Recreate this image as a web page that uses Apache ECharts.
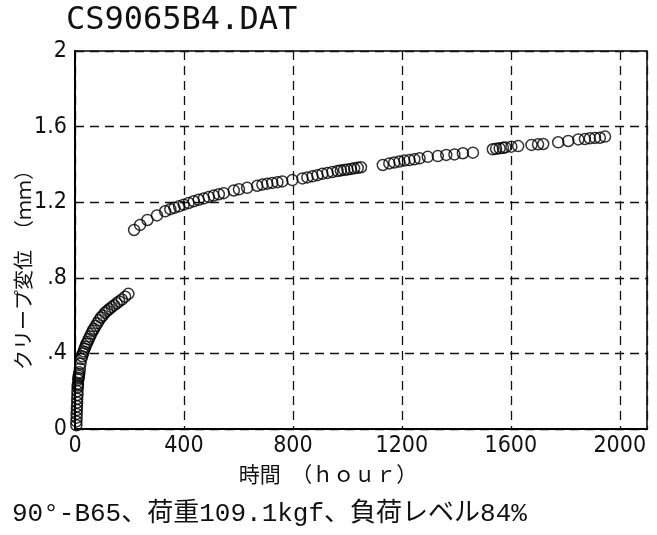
<!DOCTYPE html>
<html>
<head>
<meta charset="utf-8">
<script src="https://cdn.jsdelivr.net/npm/echarts@6/dist/echarts.min.js"></script>
<style>
html,body{margin:0;padding:0;background:#fff}
#creep-chart{width:657px;height:535px}
</style>
</head>
<body>
<div id="creep-chart"></div>
<script>
// 経過時間 (hour) とクリープ変位 (mm)
const hours = [
    5, 5, 6, 6, 7, 7, 8, 8, 9, 9, 10, 10, 11, 12, 13, 14, 15, 16, 18, 20,
    23, 26, 29, 32, 35, 38, 42, 46, 50, 55, 60, 65, 70, 76, 82, 88, 95, 102, 110, 118, 126, 135, 144, 153, 162, 172, 184, 196,
    217, 239, 266, 301, 331, 350, 365, 382, 399, 417, 436, 454, 473, 491, 509, 528, 546, 583, 602, 632, 669, 688, 706, 724,
    743, 761, 798, 835, 853, 872, 890, 908, 927, 945, 964, 976, 988, 1000, 1013, 1025, 1038, 1050,
    1130, 1154, 1172, 1191, 1209, 1228, 1246, 1265, 1295, 1332, 1363, 1393, 1424, 1461,
    1534, 1546, 1559, 1571, 1580, 1602, 1627, 1676, 1700, 1719, 1774, 1811, 1848, 1872, 1890, 1909, 1927, 1946
]
const creep = [
    0.02, 0.04, 0.06, 0.08, 0.10, 0.12, 0.14, 0.16, 0.18, 0.20, 0.22, 0.23, 0.24, 0.26, 0.27, 0.28, 0.29, 0.30, 0.32, 0.345,
    0.37, 0.385, 0.40, 0.41, 0.425, 0.435, 0.45, 0.46, 0.475, 0.49, 0.505, 0.52, 0.53, 0.545, 0.56, 0.575, 0.59, 0.60, 0.615, 0.625, 0.635, 0.645, 0.655, 0.665, 0.675, 0.685, 0.70, 0.715,
    1.053, 1.080, 1.106, 1.130, 1.152, 1.163, 1.170, 1.178, 1.187, 1.196, 1.205, 1.213, 1.220, 1.228, 1.235, 1.242, 1.248, 1.262, 1.268, 1.276, 1.287, 1.293, 1.298, 1.302,
    1.306, 1.310, 1.317, 1.326, 1.331, 1.337, 1.343, 1.350, 1.355, 1.360, 1.365, 1.368, 1.371, 1.373, 1.376, 1.379, 1.382, 1.385,
    1.397, 1.405, 1.410, 1.415, 1.420, 1.423, 1.427, 1.432, 1.440, 1.444, 1.450, 1.453, 1.459, 1.462,
    1.480, 1.483, 1.485, 1.488, 1.490, 1.494, 1.497, 1.503, 1.506, 1.508, 1.517, 1.524, 1.532, 1.534, 1.538, 1.540, 1.541, 1.547
]
const yTickLabels = ["0", ".4", ".8", "1.2", "1.6", "2"]
const xTickLabels = ["0", "400", "800", "1200", "1600", "2000"]

const titleText = "CS9065B4.DAT"
const yName = "クリープ変位　（ｍｍ）"
const xName = "時間　（ｈｏｕｒ）"
const noteText = "90°-B65、荷重109.1kgf、負荷レベル84%"

const labelFont = "'Liberation Sans Narrow', 'DejaVu Sans Condensed', 'Liberation Sans', sans-serif"
const cjkFont = "'Noto Sans CJK JP', sans-serif"

const renderChart = () => {
    const chartDom = document.getElementById("creep-chart")
    let myChart = echarts.getInstanceByDom(chartDom)
    if (!myChart) {
        myChart = echarts.init(chartDom, null, {renderer: "canvas"})
    }
    const points = hours.map((h, i) => [h, creep[i]])
    const dash = {color: "#111", width: 1.3, type: [9, 6]}

    const option = {
        backgroundColor: "#fff",
        animation: false,
        title: {
            text: titleText,
            left: 66,
            top: 5,
            padding: 0,
            textStyle: {fontFamily: "'DejaVu Sans Mono', monospace", fontSize: 32, fontWeight: "normal", color: "#111"}
        },
        grid: {left: 75, right: 10, top: 51, bottom: 106, show: true, borderColor: "#000", borderWidth: 1.5},
        xAxis: {
            type: "value",
            min: 0,
            max: 2100,
            interval: 400,
            axisLine: {show: true, lineStyle: {color: "#000", width: 2}},
            axisTick: {show: false},
            splitLine: {show: true, lineStyle: dash},
            axisLabel: {
                showMaxLabel: false,
                margin: 6,
                color: "#111",
                fontFamily: labelFont,
                fontSize: 23,
                formatter: v => xTickLabels[v / 400] || ""
            }
        },
        yAxis: {
            type: "value",
            min: 0,
            max: 2,
            interval: 0.4,
            axisLine: {show: true, lineStyle: {color: "#000", width: 2}},
            axisTick: {show: false},
            splitLine: {show: true, lineStyle: dash},
            axisLabel: {
                margin: 8,
                color: "#111",
                fontFamily: labelFont,
                fontSize: 23,
                formatter: (v, i) => yTickLabels[i]
            }
        },
        graphic: [
            {
                type: "text",
                x: 23,
                y: 265,
                rotation: Math.PI / 2,
                style: {text: yName, align: "center", verticalAlign: "middle", font: "20px " + cjkFont, fill: "#111"}
            },
            {
                type: "text",
                x: 328,
                y: 474,
                style: {text: xName, align: "center", verticalAlign: "middle", font: "21px " + cjkFont, fill: "#111"}
            },
            {
                type: "text",
                x: 12,
                y: 514,
                style: {text: noteText, align: "left", verticalAlign: "middle", font: "26px 'Liberation Mono', 'Noto Sans CJK JP', monospace", fill: "#111"}
            }
        ],
        series: [{
            type: "scatter",
            data: points,
            symbol: "circle",
            symbolSize: 11,
            itemStyle: {color: "rgba(0,0,0,0)", borderColor: "#000", borderWidth: 1.5}
        }]
    }
    myChart.setOption(option)
}

renderChart()
</script>
</body>
</html>
